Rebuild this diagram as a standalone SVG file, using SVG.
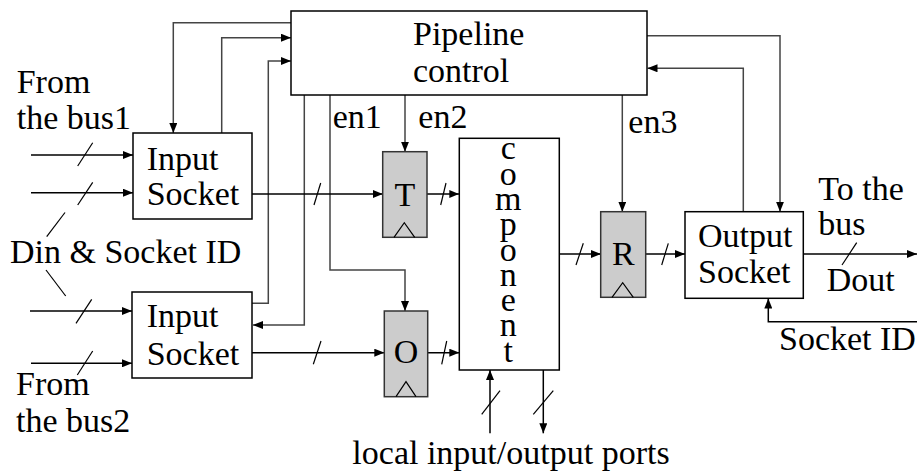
<svg xmlns="http://www.w3.org/2000/svg" width="917" height="473" viewBox="0 0 917 473">
<style>
text{font-family:"Liberation Serif","Times New Roman",serif;font-size:34px;fill:#000}
.box{fill:#fff;stroke:#000;stroke-width:1.5}
.reg{fill:#cccccc;stroke:#333;stroke-width:1.5}
.clk{fill:none;stroke:#000;stroke-width:1.2}
.c{fill:none;stroke:#444;stroke-width:1.5}
.k{fill:none;stroke:#000;stroke-width:1.5}
.s{fill:none;stroke:#000;stroke-width:1.2}
.mid{text-anchor:middle}
</style>
<defs>
<marker id="a" markerWidth="10" markerHeight="8" refX="10" refY="4" orient="auto" markerUnits="userSpaceOnUse">
<path d="M0,0 L10,4 L0,8 z" fill="#000"/>
</marker>
</defs>
<g id="connectors">
<polyline class="c" points="291,22.7 173.3,22.7 173.3,133" marker-end="url(#a)"/>
<polyline class="c" points="221.7,133 221.7,37.7 291,37.7" marker-end="url(#a)"/>
<polyline class="c" points="252,303.3 268.3,303.3 268.3,61 291,61" marker-end="url(#a)"/>
<polyline class="c" points="304.3,95 304.3,325 253,325" marker-end="url(#a)"/>
<polyline class="c" points="330,95 330,270 405,270 405,311" marker-end="url(#a)"/>
<polyline class="c" points="405,95 405,151.7" marker-end="url(#a)"/>
<polyline class="c" points="622.3,95 622.3,211.7" marker-end="url(#a)"/>
<polyline class="c" points="647,35.7 780,35.7 780,211.7" marker-end="url(#a)"/>
<polyline class="c" points="743.3,211.7 743.3,68.3 647.5,68.3" marker-end="url(#a)"/>
<polyline class="k" points="252,194 382.7,194" marker-end="url(#a)"/>
<polyline class="k" points="427,194 459.3,194" marker-end="url(#a)"/>
<polyline class="k" points="252,352.7 384.3,352.7" marker-end="url(#a)"/>
<polyline class="k" points="427.7,352.7 459.3,352.7" marker-end="url(#a)"/>
<polyline class="k" points="559.3,254 601,254" marker-end="url(#a)"/>
<polyline class="k" points="645.5,254 685,254" marker-end="url(#a)"/>
<polyline class="k" points="803.3,254 917,254" marker-end="url(#a)"/>
<polyline class="k" points="917,321.7 768.3,321.7 768.3,298.5" marker-end="url(#a)"/>
<polyline class="k" points="490,433.3 490,370" marker-end="url(#a)"/>
<polyline class="k" points="543.3,370 543.3,433.3" marker-end="url(#a)"/>
<polyline class="k" points="31,155 133,155" marker-end="url(#a)"/>
<polyline class="k" points="31,192.7 133,192.7" marker-end="url(#a)"/>
<polyline class="k" points="30,311 132,311" marker-end="url(#a)"/>
<polyline class="k" points="31,363.3 132,363.3" marker-end="url(#a)"/>
<line class="s" x1="77.7" y1="166" x2="92.7" y2="142.7"/>
<line class="s" x1="77.7" y1="205" x2="92.7" y2="182.3"/>
<line class="s" x1="76" y1="323.3" x2="91.7" y2="299.3"/>
<line class="s" x1="77.3" y1="375" x2="92.7" y2="351"/>
<line class="s" x1="46.7" y1="236.7" x2="65" y2="212.5"/>
<line class="s" x1="46" y1="270" x2="65.7" y2="296"/>
<line class="s" x1="314" y1="205" x2="320.7" y2="183"/>
<line class="s" x1="440.7" y1="205" x2="446" y2="183"/>
<line class="s" x1="313.3" y1="364.3" x2="321" y2="341"/>
<line class="s" x1="441.7" y1="364.3" x2="446.7" y2="341"/>
<line class="s" x1="576" y1="265" x2="583.3" y2="243.3"/>
<line class="s" x1="661.7" y1="265" x2="668.3" y2="243.3"/>
<line class="s" x1="842" y1="265" x2="856.7" y2="242.7"/>
<line class="s" x1="481.7" y1="414.3" x2="500" y2="390.7"/>
<line class="s" x1="533.3" y1="414.3" x2="553.3" y2="390.7"/>
</g>
<g id="pipeline-control">
<rect class="box" x="291" y="11" width="356" height="84"/>
<text x="413" y="45">Pipeline</text>
<text x="413" y="82">control</text>
</g>
<g id="input-socket-1">
<rect class="box" x="133" y="133" width="119" height="86"/>
<text x="146.7" y="170">Input</text>
<text x="146.7" y="205">Socket</text>
</g>
<g id="input-socket-2">
<rect class="box" x="132" y="292" width="120" height="86"/>
<text x="146.7" y="326.7">Input</text>
<text x="146.7" y="365">Socket</text>
</g>
<g id="reg-T">
<rect class="reg" x="382.7" y="151.7" width="44.3" height="85.6"/>
<polyline class="clk" points="394,237.3 404.3,222.7 414.7,237.3"/>
<text class="mid" x="405" y="206">T</text>
</g>
<g id="reg-O">
<rect class="reg" x="384.3" y="311" width="43.4" height="85.7"/>
<polyline class="clk" points="396,396.7 406,381.7 416,396.7"/>
<text class="mid" x="406" y="363.3">O</text>
</g>
<g id="reg-R">
<rect class="reg" x="600.7" y="211.7" width="45" height="85.6"/>
<polyline class="clk" points="612,297.3 622.7,282.7 633.3,297.3"/>
<text class="mid" x="623.3" y="265">R</text>
</g>
<g id="component">
<rect class="box" x="459.3" y="138.3" width="100" height="231.7"/>
<text class="mid" x="508.3" y="159.3">c<tspan x="508.3" dy="25.3">o</tspan><tspan x="508.3" dy="25.3">m</tspan><tspan x="508.3" dy="25.3">p</tspan><tspan x="508.3" dy="25.3">o</tspan><tspan x="508.3" dy="25.3">n</tspan><tspan x="508.3" dy="25.3">e</tspan><tspan x="508.3" dy="25.3">n</tspan><tspan x="508.3" dy="25.3">t</tspan></text>
</g>
<g id="output-socket">
<rect class="box" x="685" y="211.7" width="118.3" height="86.6"/>
<text x="698" y="246.7">Output</text>
<text x="698" y="282.7">Socket</text>
</g>
<g id="labels">
<text x="16.7" y="92.7">From</text>
<text x="16.7" y="129.3">the bus1</text>
<text x="10" y="263.3">Din &amp; Socket ID</text>
<text x="16" y="395">From</text>
<text x="16" y="431.7">the bus2</text>
<text x="332.7" y="128.3">en1</text>
<text x="418.3" y="128.3">en2</text>
<text x="628.3" y="133">en3</text>
<text x="818.3" y="200">To the</text>
<text x="818.3" y="235">bus</text>
<text x="826.7" y="290.7">Dout</text>
<text x="779" y="350">Socket ID</text>
<text class="mid" x="511" y="464">local input/output ports</text>
</g>
</svg>
